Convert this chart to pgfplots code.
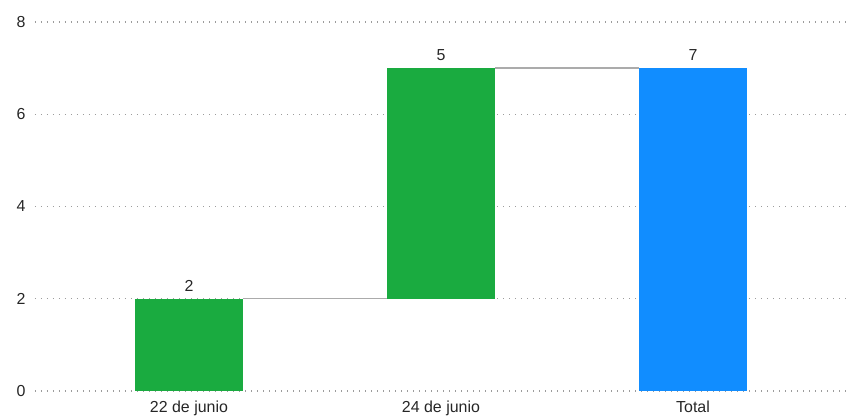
\documentclass[border=0pt]{standalone}
\usepackage{pgfplots}
\pgfplotsset{compat=1.18}
\usepackage{fontspec}
\setmainfont{Liberation Sans}
\definecolor{pbigreen}{HTML}{1AAB40}
\definecolor{pbiblue}{HTML}{118DFF}
\definecolor{gridc}{HTML}{9C9C9C}
\definecolor{connc}{HTML}{ABABAB}
\begin{document}
\begin{tikzpicture}
\useasboundingbox (-35bp,-26bp) rectangle (819bp,391bp);
\begin{axis}[
  at={(0,0)}, anchor=south west,
  scale only axis, width=815bp, height=369bp,
  xmin=-0.611, xmax=2.623, ymin=0, ymax=8,
  ytick={0,2,4,6,8},
  xtick={0,1,2}, xticklabels={22 de junio,24 de junio,Total},
  axis line style={draw=none}, major tick length=0pt,
  ymajorgrids, grid style={gridc, line width=1.1bp, dash pattern=on 1.1bp off 4.9bp},
  /pgf/number format/assume math mode=true,
  ticklabel style={font=\fontsize{16}{18}\selectfont, text=black!85},
  yticklabel style={xshift=-6bp},
  xticklabel style={yshift=-6bp},
  clip=false,
]
% floating bars (waterfall): base to top
\addplot[draw=none, fill=pbigreen] coordinates {(-0.2143,0) (0.2143,0) (0.2143,2) (-0.2143,2)} -- cycle;
\addplot[draw=none, fill=pbigreen] coordinates {(0.7857,2) (1.2143,2) (1.2143,7) (0.7857,7)} -- cycle;
\addplot[draw=none, fill=pbiblue] coordinates {(1.7857,0) (2.2143,0) (2.2143,7) (1.7857,7)} -- cycle;
% connectors
\addplot[connc, line width=1.3bp] coordinates {(0.2143,2) (0.7857,2)};
\addplot[connc, line width=1.3bp] coordinates {(1.2143,7) (1.7857,7)};
% value labels
\addplot[draw=none, mark=none,
  nodes near coords, point meta=explicit symbolic,
  nodes near coords style={font=\fontsize{16}{18}\selectfont, text=black!85, anchor=south, yshift=4bp}]
  coordinates {(0,2) [2] (1,7) [5] (2,7) [7]};
\end{axis}
\end{tikzpicture}
\end{document}
